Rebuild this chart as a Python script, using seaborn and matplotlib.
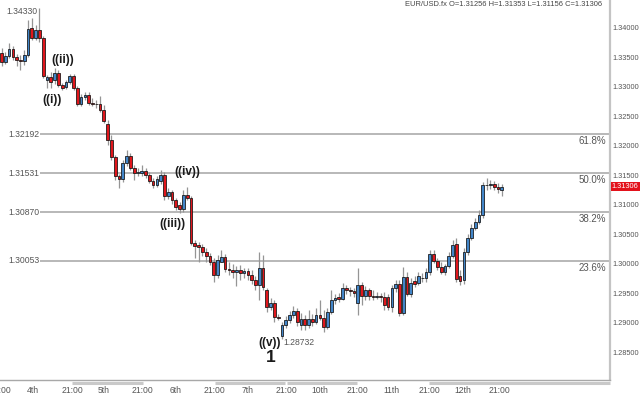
import numpy as np
import pandas as pd
import matplotlib
matplotlib.use("Agg")
import matplotlib.pyplot as plt
import matplotlib.transforms as mtransforms
import seaborn as sns

# EUR/USD candles (oldest first)
opens = [1.3357, 1.3342, 1.3352, 1.3364, 1.3350, 1.3345, 1.3344, 1.3354, 1.3400, 1.3383,
         1.3396, 1.3383, 1.3311, 1.3316, 1.3311, 1.3323, 1.3303, 1.3300, 1.3308, 1.3318,
         1.3298, 1.3271, 1.3283, 1.3286, 1.3272, 1.3271, 1.3271, 1.3261, 1.3237, 1.3210,
         1.3181, 1.3149, 1.3144, 1.3171, 1.3183, 1.3162, 1.3154, 1.3154, 1.3157, 1.3150,
         1.3140, 1.3133, 1.3140, 1.3150, 1.3115, 1.3122, 1.3108, 1.3100, 1.3093, 1.3116,
         1.3111, 1.3035, 1.3032, 1.3028, 1.3020, 1.3013, 1.3003, 1.2981, 1.3003, 1.3011,
         1.2991, 1.2989, 1.2986, 1.2989, 1.2984, 1.2988, 1.2981, 1.2972, 1.2964, 1.2993,
         1.2955, 1.2927, 1.2933, 1.2910, 1.2877, 1.2896, 1.2905, 1.2913, 1.2920, 1.2896,
         1.2906, 1.2896, 1.2906, 1.2901, 1.2913, 1.2908, 1.2893, 1.2918, 1.2939, 1.2944,
         1.2940, 1.2959, 1.2955, 1.2954, 1.2933, 1.2964, 1.2945, 1.2955, 1.2945, 1.2944,
         1.2945, 1.2944, 1.2944, 1.2927, 1.2959, 1.2966, 1.2916, 1.2977, 1.2949, 1.2971,
         1.2967, 1.2976, 1.2976, 1.2986, 1.3016, 1.3005, 1.2994, 1.2986, 1.2996, 1.3013,
         1.3033, 1.2979, 1.2972, 1.3020, 1.3044, 1.3061, 1.3071, 1.3083, 1.3133, 1.3133,
         1.3135, 1.3130, 1.31256]
highs = [1.3366, 1.3359, 1.3374, 1.3369, 1.3355, 1.3354, 1.3362, 1.3413, 1.3416, 1.3405,
         1.3433, 1.3386, 1.3320, 1.3325, 1.3332, 1.3328, 1.3306, 1.3311, 1.3322, 1.3322,
         1.3301, 1.3288, 1.3291, 1.3291, 1.3281, 1.3278, 1.3284, 1.3269, 1.3244, 1.3218,
         1.3184, 1.3152, 1.3176, 1.3193, 1.3188, 1.3167, 1.3162, 1.3167, 1.3162, 1.3155,
         1.3145, 1.3149, 1.3159, 1.3155, 1.3128, 1.3125, 1.3111, 1.3105, 1.3125, 1.3130,
         1.3115, 1.3040, 1.3037, 1.3033, 1.3027, 1.3018, 1.3010, 1.3015, 1.3023, 1.3016,
         1.3003, 1.3000, 1.2996, 1.2998, 1.2993, 1.2993, 1.2989, 1.2979, 1.3020, 1.3015,
         1.2959, 1.2942, 1.2939, 1.2915, 1.2901, 1.2911, 1.2920, 1.2928, 1.2925, 1.2916,
         1.2913, 1.2922, 1.2915, 1.2925, 1.2939, 1.2922, 1.2925, 1.2955, 1.2949, 1.2950,
         1.2967, 1.2964, 1.2961, 1.2959, 1.2993, 1.2969, 1.2962, 1.2959, 1.2955, 1.2952,
         1.2950, 1.2952, 1.2949, 1.2964, 1.2972, 1.2972, 1.2994, 1.2986, 1.2976, 1.2979,
         1.2986, 1.2984, 1.2993, 1.3023, 1.3023, 1.3010, 1.3003, 1.3000, 1.3020, 1.3040,
         1.3044, 1.2989, 1.3027, 1.3050, 1.3067, 1.3077, 1.3091, 1.3138, 1.3145, 1.3142,
         1.3140, 1.3137, 1.31353]
lows = [1.3335, 1.3339, 1.3349, 1.3345, 1.3335, 1.3328, 1.3337, 1.3350, 1.3379, 1.3379,
        1.3376, 1.3315, 1.3298, 1.3298, 1.3305, 1.3300, 1.3294, 1.3296, 1.3305, 1.3294,
        1.3267, 1.3267, 1.3278, 1.3269, 1.3267, 1.3264, 1.3257, 1.3239, 1.3201, 1.3176,
        1.3142, 1.3128, 1.3138, 1.3166, 1.3159, 1.3142, 1.3149, 1.3149, 1.3145, 1.3137,
        1.3128, 1.3130, 1.3135, 1.3108, 1.3110, 1.3101, 1.3091, 1.3086, 1.3088, 1.3108,
        1.3032, 1.3010, 1.3003, 1.3013, 1.3003, 1.2998, 1.2969, 1.2976, 1.3003, 1.2986,
        1.2981, 1.2976, 1.2962, 1.2972, 1.2976, 1.2972, 1.2966, 1.2955, 1.2939, 1.2955,
        1.2918, 1.2922, 1.2901, 1.2905, 1.28732, 1.2891, 1.2900, 1.2908, 1.2894, 1.2888,
        1.2888, 1.2891, 1.2894, 1.2898, 1.2905, 1.2884, 1.2889, 1.2915, 1.2932, 1.2935,
        1.2939, 1.2949, 1.2945, 1.2944, 1.2913, 1.2930, 1.2939, 1.2939, 1.2939, 1.2940,
        1.2935, 1.2922, 1.2922, 1.2918, 1.2952, 1.2911, 1.2913, 1.2945, 1.2944, 1.2961,
        1.2964, 1.2969, 1.2969, 1.2981, 1.3001, 1.2989, 1.2983, 1.2981, 1.2993, 1.3010,
        1.2969, 1.2964, 1.2966, 1.3015, 1.3040, 1.3057, 1.3067, 1.3077, 1.3125, 1.3127,
        1.3125, 1.3120, 1.31156]
closes = [1.3342, 1.3352, 1.3364, 1.3350, 1.3345, 1.3344, 1.3354, 1.3398, 1.3383, 1.3396,
          1.3383, 1.3318, 1.3316, 1.3308, 1.3323, 1.3303, 1.3298, 1.3308, 1.3318, 1.3298,
          1.3271, 1.3283, 1.3286, 1.3272, 1.3271, 1.3271, 1.3261, 1.3242, 1.3210, 1.3181,
          1.3149, 1.3144, 1.3171, 1.3183, 1.3162, 1.3154, 1.3155, 1.3157, 1.3150, 1.3140,
          1.3133, 1.3144, 1.3150, 1.3115, 1.3122, 1.3108, 1.3096, 1.3093, 1.3116, 1.3111,
          1.3035, 1.3030, 1.3028, 1.3020, 1.3013, 1.3003, 1.2981, 1.3006, 1.3011, 1.2991,
          1.2989, 1.2986, 1.2989, 1.2984, 1.2988, 1.2981, 1.2972, 1.2964, 1.2993, 1.2961,
          1.2927, 1.2933, 1.2910, 1.2908, 1.2896, 1.2905, 1.2913, 1.2920, 1.2901, 1.2906,
          1.2896, 1.2906, 1.2901, 1.2913, 1.2908, 1.2893, 1.2918, 1.2939, 1.2942, 1.2940,
          1.2959, 1.2955, 1.2954, 1.2950, 1.2964, 1.2945, 1.2955, 1.2945, 1.2944, 1.2945,
          1.2944, 1.2930, 1.2927, 1.2959, 1.2966, 1.2916, 1.2977, 1.2949, 1.2967, 1.2966,
          1.2979, 1.2976, 1.2986, 1.3016, 1.3005, 1.2994, 1.2986, 1.2996, 1.3013, 1.3032,
          1.2974, 1.2971, 1.3020, 1.3044, 1.3061, 1.3071, 1.3083, 1.3133, 1.3133, 1.3135,
          1.3130, 1.3127, 1.31306]

# Fibonacci retracement levels of the 1.34330 -> 1.28732 drop
fib_levels = [1.32192, 1.31531, 1.30870, 1.30053]
fib_labels = ["61.8%", "50.0%", "38.2%", "23.6%"]

# price axis and time axis labels
y_ticks = [1.285, 1.290, 1.295, 1.300, 1.305, 1.310, 1.315, 1.320, 1.325, 1.330, 1.335, 1.340]
time_labels = ["21:00", "4th", "21:00", "5th", "21:00", "6th", "21:00", "7th",
               "21:00", "10th", "21:00", "11th", "21:00", "12th", "21:00"]
time_pos = [-0.3, 8.3, 18.6, 27.0, 37.3, 46.0, 56.3, 64.8,
            75.1, 84.0, 93.8, 103.0, 112.8, 121.8, 131.5]

# Elliott wave counts (label, bar position, price)
wave_labels = ["((i))", "((ii))", "((iii))", "((iv))", "((v))"]
wave_x = [13.3, 16.2, 45.0, 48.9, 70.8]
wave_y = [1.3278, 1.3345, 1.3067, 1.3155, 1.2866]

df = pd.DataFrame({"open": opens, "high": highs, "low": lows, "close": closes})
df["bar"] = np.arange(len(df))
df["up"] = df["close"] >= df["open"]

sns.set_theme(style="white")
plt.rcParams["font.family"] = ["Liberation Sans Narrow", "Liberation Sans", "DejaVu Sans"]

fig = plt.figure(figsize=(6.4, 4.0), dpi=100)
ax = fig.add_axes([0, 20 / 400, 610 / 640, 380 / 400])

x_max = 160.55
ax.set_xlim(-0.40, x_max)
ax.set_ylim(1.28029, 1.3447)

# fib lines start a little right of the left edge
line_start = 10.2
for lvl, lab in zip(fib_levels, fib_labels):
    ax.hlines(lvl, line_start, x_max, color="#b2b2b2", lw=1.3, zorder=0)
    ax.text(line_start - 0.3, lvl, f"{lvl:.5f}", ha="right", va="center",
            fontsize=6.2, color="#555555")
    ax.annotate(lab, xy=(x_max, lvl), xytext=(-3, -1.5), textcoords="offset points",
                ha="right", va="top", fontsize=7, color="#555555")

# candles
blue, red = "#4285c8", "#e0161c"
colors = np.where(df["up"], blue, red)
ax.vlines(df["bar"], df["low"], df["high"], color="#959595", lw=0.9, zorder=1)
ax.bar(df["bar"], df["close"] - df["open"], bottom=df["open"], width=0.72,
       color=colors, edgecolor="#111111", linewidth=0.55, zorder=2)

# annotations
ax.text(9.6, 1.3427, "1.34330", ha="right", va="center", fontsize=6.2, color="#555555")
ax.text(74.3, 1.2866, "1.28732", ha="left", va="center", fontsize=6.2, color="#555555")
for lab, xx, yy in zip(wave_labels, wave_x, wave_y):
    ax.text(xx, yy, lab, ha="center", va="center", fontsize=8.5, fontweight="bold",
            color="#1a1a1a", family=["Liberation Sans", "DejaVu Sans"])
ax.text(71.1, 1.2841, "1", ha="center", va="center", fontsize=12.5, fontweight="bold",
        color="#1a1a1a", family=["Liberation Sans", "DejaVu Sans"])

# axes styling
sns.despine(ax=ax, left=True, top=True, right=False, bottom=False)
ax.spines["right"].set_color("#c4c4c4")
ax.spines["right"].set_linewidth(1.6)
ax.spines["bottom"].set_color("#a8a8a8")
ax.spines["bottom"].set_linewidth(1.0)
ax.yaxis.tick_right()
ax.set_yticks(y_ticks)
ax.set_yticklabels([f"{v:.5f}" for v in y_ticks])
ax.set_xticks(time_pos)
ax.set_xticklabels(time_labels)
ax.tick_params(axis="y", length=0, pad=1.5, labelsize=5.3, labelcolor="#555555")
ax.tick_params(axis="x", length=0, pad=4.2, labelsize=6.2, labelcolor="#555555")
ax.grid(False)

# alternating day shading under the time axis
trans = mtransforms.blended_transform_factory(ax.transData, ax.transAxes)
for a, b in [(18.6, 37.3), (56.3, 74.9), (75.3, 93.8), (112.8, x_max)]:
    ax.plot([a, b], [-0.009, -0.009], transform=trans, color="#c9c9c9", lw=2.2,
            solid_capstyle="butt", clip_on=False)

# last price box
trans_y = mtransforms.blended_transform_factory(ax.transAxes, ax.transData)
ax.text(1.003, closes[-1], f"{closes[-1]:.5f}", transform=trans_y, ha="left", va="center",
        fontsize=5.3, color="white",
        bbox=dict(boxstyle="square,pad=0.15", fc="#e3121b", ec="none"))

fig.text(602 / 640, 1 - 5 / 400, "EUR/USD.fx O=1.31256 H=1.31353 L=1.31156 C=1.31306",
         ha="right", va="center", fontsize=5.4, color="#444444")

fig.savefig("out.png", dpi=100, facecolor="white")
